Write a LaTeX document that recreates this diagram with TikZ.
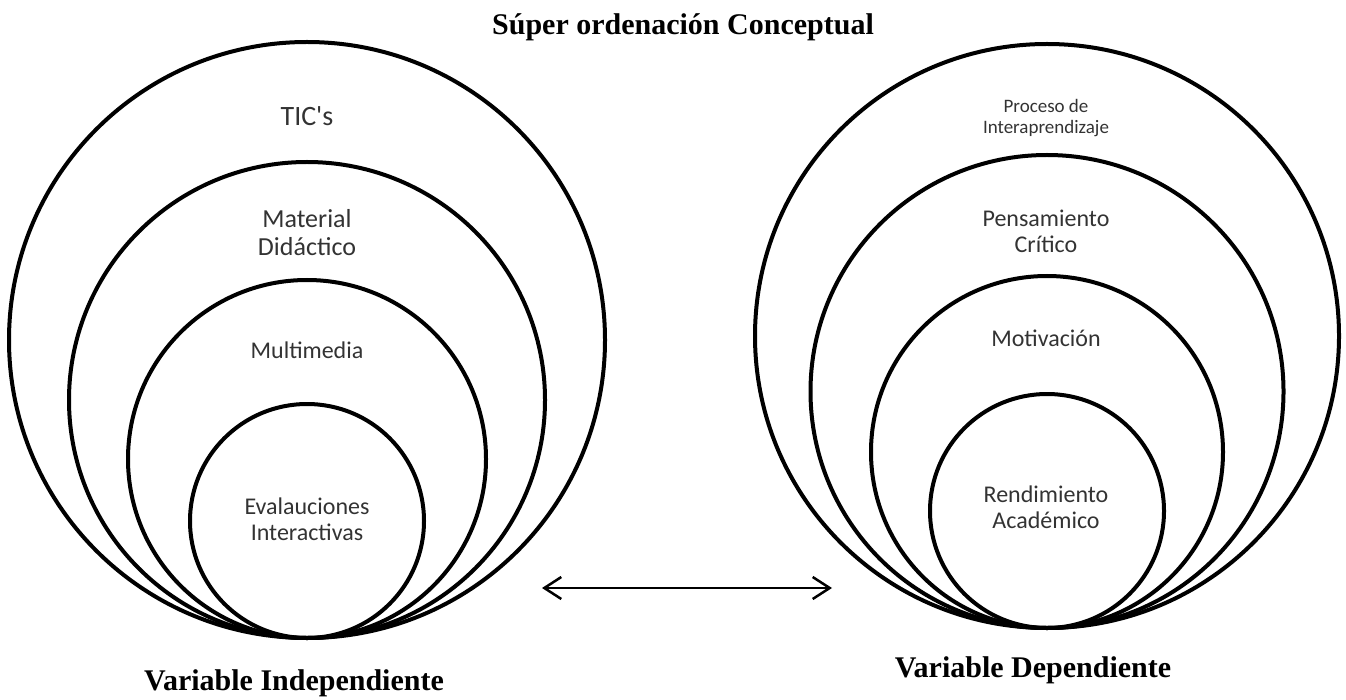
\documentclass[tikz,border=0pt]{standalone}
\usepackage{fontspec}
\setmainfont{Carlito}
\newfontfamily\timesfont{Liberation Serif}
\usepackage{tikz}
\usetikzlibrary{arrows.meta}

\begin{document}
\begin{tikzpicture}[x=1pt,y=-1pt,
	ring/.style={draw,circle,line width=4pt,inner sep=0pt},
	word/.style={align=center,text=black!80,font=\fontsize{24}{26}\selectfont},
	heading/.style={font=\timesfont\bfseries\fontsize{30}{32}\selectfont},
	barb/.style={line width=2.5pt,{Straight Barb[length=17pt,width=22pt]}-{Straight Barb[length=17pt,width=22pt]}}]
	\useasboundingbox (0,0) rectangle (1346,700);
	\coordinate (baseL) at (307,638);
	\coordinate (baseR) at (1047,628);
	\node [ring,minimum size=596pt] (tics) at ([yshift=298pt]baseL) {};
	\node [ring,minimum size=476pt] (material) at ([yshift=238pt]baseL) {};
	\node [ring,minimum size=358pt] (multimedia) at ([yshift=179pt]baseL) {};
	\node [ring,minimum size=234pt] (evaluaciones) at ([yshift=117pt]baseL) {};
	\node [ring,minimum size=584pt] (proceso) at ([yshift=292pt]baseR) {};
	\node [ring,minimum size=473pt] (pensamiento) at ([yshift=236.5pt]baseR) {};
	\node [ring,minimum size=352pt] (motivacion) at ([yshift=176pt]baseR) {};
	\node [ring,minimum size=234pt] (rendimiento) at ([yshift=117pt]baseR) {};
	\node [word,font=\fontsize{28}{30}\selectfont] (ticsT) at (307,116) {TIC\textquotesingle s};
	\node [word,font=\fontsize{26}{28}\selectfont] (materialT) at (307,233) {Material\\Didáctico};
	\node [word] (multimediaT) at (307,350) {Multimedia};
	\node [word] (evaluacionesT) at (307,519) {Evalauciones\\Interactivas};
	\node [word,font=\fontsize{19}{21}\selectfont] (procesoT) at (1046,118) {Proceso de\\Interaprendizaje};
	\node [word] (pensamientoT) at (1046,231) {Pensamiento\\Crítico};
	\node [word] (motivacionT) at (1046,338) {Motivación};
	\node [word] (rendimientoT) at (1046,507) {Rendimiento\\Académico};
	\node [heading] (title) at (683,27) {Súper ordenación Conceptual};
	\node [heading] (indep) at (294,683) {Variable Independiente};
	\node [heading] (dep) at (1033,670) {Variable Dependiente};
	\coordinate (arrL) at (542,588);
	\coordinate (arrR) at (832,588);
	\draw [barb] (arrL) -- (arrR);
\end{tikzpicture}
\end{document}
